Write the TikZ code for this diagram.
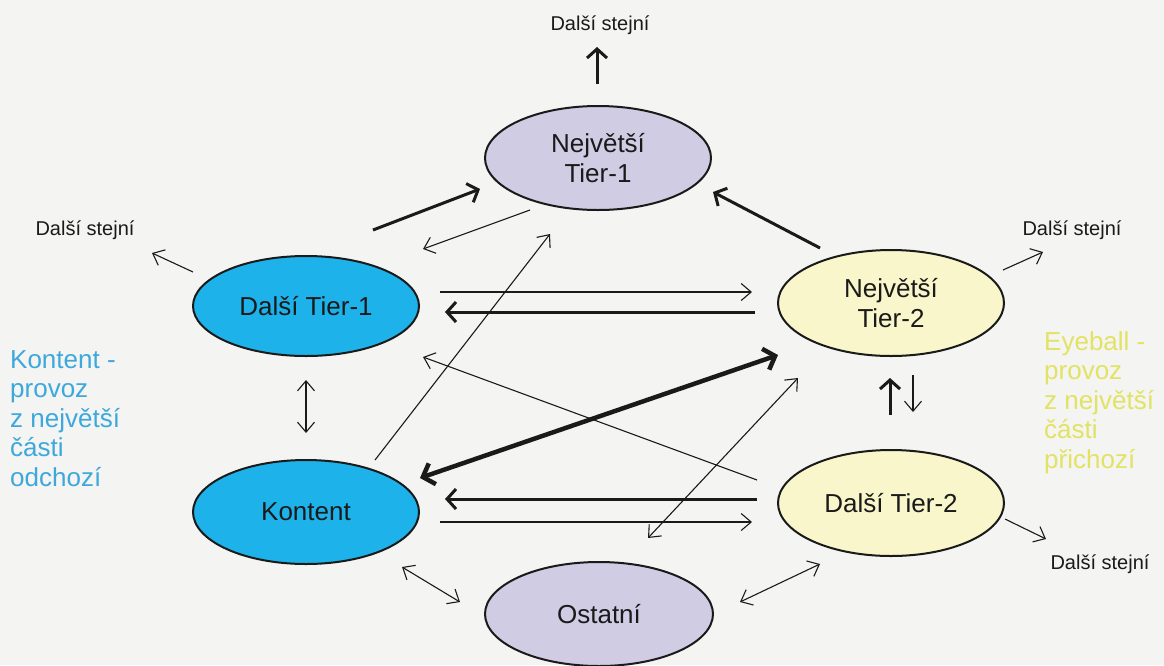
\documentclass[tikz,border=0pt]{standalone}
\usepackage{fontspec}
\setmainfont{Liberation Sans}
\usetikzlibrary{shapes.geometric,arrows.meta}

\definecolor{paper}{HTML}{F4F4F2}
\definecolor{lavender}{HTML}{CFCCE4}
\definecolor{skyfill}{HTML}{1DB3EA}
\definecolor{creamfill}{HTML}{F8F6CA}
\definecolor{bluetext}{HTML}{3DA8DC}
\definecolor{yellowtext}{HTML}{E2E264}
\definecolor{ink}{HTML}{1A1A1A}

\tikzset{
  tier/.style={ellipse, draw=ink, line width=2pt, minimum width=226pt,
    minimum height=104pt, inner sep=0pt, align=center, text=ink,
    font=\fontsize{26}{30}\selectfont},
  outlabel/.style={text=ink, font=\fontsize{20}{24}\selectfont, inner sep=0pt},
  note/.style={align=left, inner sep=0pt, font=\fontsize{26}{29.5}\selectfont, anchor=north west},
  thin/.style={draw=ink, line width=1.1pt, -{Straight Barb[length=10pt,width=17pt]}},
  thinboth/.style={draw=ink, line width=1.1pt, {Straight Barb[length=10pt,width=17pt]}-{Straight Barb[length=10pt,width=17pt]}},
  thick/.style={draw=ink, line width=3pt, -{Straight Barb[length=9pt,width=20pt]}},
  heavy/.style={draw=ink, line width=4.5pt, {Straight Barb[length=10pt,width=22pt]}-{Straight Barb[length=10pt,width=22pt]}},
}

\begin{document}
\begin{tikzpicture}[x=1pt, y=-1pt]
  % canvas
  \fill[paper] (0,0) rectangle (1164,665);
  \useasboundingbox (0,0) rectangle (1164,665);

  % provider ellipses
  \node[tier, fill=lavender] (nt1) at (598,158) {Největší\\Tier-1};
  \node[tier, fill=skyfill, minimum height=100pt] (dt1) at (306,306) {Další Tier-1};
  \node[tier, fill=skyfill] (kon) at (306,512) {Kontent};
  \node[tier, fill=creamfill, minimum height=106pt] (nt2) at (891,303) {Největší\\Tier-2};
  \node[tier, fill=creamfill, minimum height=106pt] (dt2) at (891,503) {Další Tier-2};
  \node[tier, fill=lavender, minimum width=228pt] (ost) at (599,614) {Ostatní};

  % "more of the same" labels
  \node[outlabel] (lTop) at (600,25) {Další stejní};
  \node[outlabel] (lLeft) at (85,230) {Další stejní};
  \node[outlabel] (lRight) at (1072,230) {Další stejní};
  \node[outlabel] (lBR) at (1100,564) {Další stejní};

  % side notes
  \node[note, text=bluetext] (noteL) at (10,350) {Kontent -\\provoz\\z největší\\části\\odchozí};
  \node[note, text=yellowtext] (noteR) at (1044,331) {Eyeball -\\provoz\\z největší\\části\\přichozí};

  % connector end points
  \coordinate (p1a) at (373,230); \coordinate (p1b) at (480,189);
  \coordinate (p2a) at (530,210); \coordinate (p2b) at (423,249);
  \coordinate (p3a) at (820,248); \coordinate (p3b) at (713,192);
  \coordinate (p4a) at (375,460); \coordinate (p4b) at (550,234);
  \coordinate (p5a) at (440,292); \coordinate (p5b) at (752,292);
  \coordinate (p6a) at (755,312); \coordinate (p6b) at (445,312);
  \coordinate (p7a) at (757,480); \coordinate (p7b) at (423,357);
  \coordinate (p8a) at (420,478); \coordinate (p8b) at (778,355);
  \coordinate (p9a) at (648,538); \coordinate (p9b) at (798,378);
  \coordinate (p10a) at (757,499); \coordinate (p10b) at (445,499);
  \coordinate (p11a) at (440,522); \coordinate (p11b) at (752,522);
  \coordinate (p12a) at (890,415); \coordinate (p12b) at (890,378);
  \coordinate (p13a) at (913,375); \coordinate (p13b) at (913,412);
  \coordinate (p14a) at (306,380); \coordinate (p14b) at (306,433);
  \coordinate (p15a) at (402,567); \coordinate (p15b) at (460,602);
  \coordinate (p16a) at (740,602); \coordinate (p16b) at (820,564);
  \coordinate (p17a) at (597,84);  \coordinate (p17b) at (597,47);
  \coordinate (p18a) at (193,272); \coordinate (p18b) at (152,253);
  \coordinate (p19a) at (1003,270); \coordinate (p19b) at (1043,252);
  \coordinate (p20a) at (1005,519); \coordinate (p20b) at (1046,539);

  % traffic between the tiers
  \draw[thick] (p1a) -- (p1b);
  \draw[thin] (p2a) -- (p2b);
  \draw[thick] (p3a) -- (p3b);
  \draw[thin] (p4a) -- (p4b);
  \draw[thin] (p5a) -- (p5b);
  \draw[thick] (p6a) -- (p6b);
  \draw[thin] (p7a) -- (p7b);
  \draw[heavy] (p8a) -- (p8b);
  \draw[thinboth] (p9a) -- (p9b);
  \draw[thick] (p10a) -- (p10b);
  \draw[thin] (p11a) -- (p11b);
  \draw[thick] (p12a) -- (p12b);
  \draw[thin] (p13a) -- (p13b);
  \draw[thinboth] (p14a) -- (p14b);
  \draw[thinboth] (p15a) -- (p15b);
  \draw[thinboth] (p16a) -- (p16b);

  % outward links
  \draw[thick] (p17a) -- (p17b);
  \draw[thin] (p18a) -- (p18b);
  \draw[thin] (p19a) -- (p19b);
  \draw[thin] (p20a) -- (p20b);
\end{tikzpicture}
\end{document}
